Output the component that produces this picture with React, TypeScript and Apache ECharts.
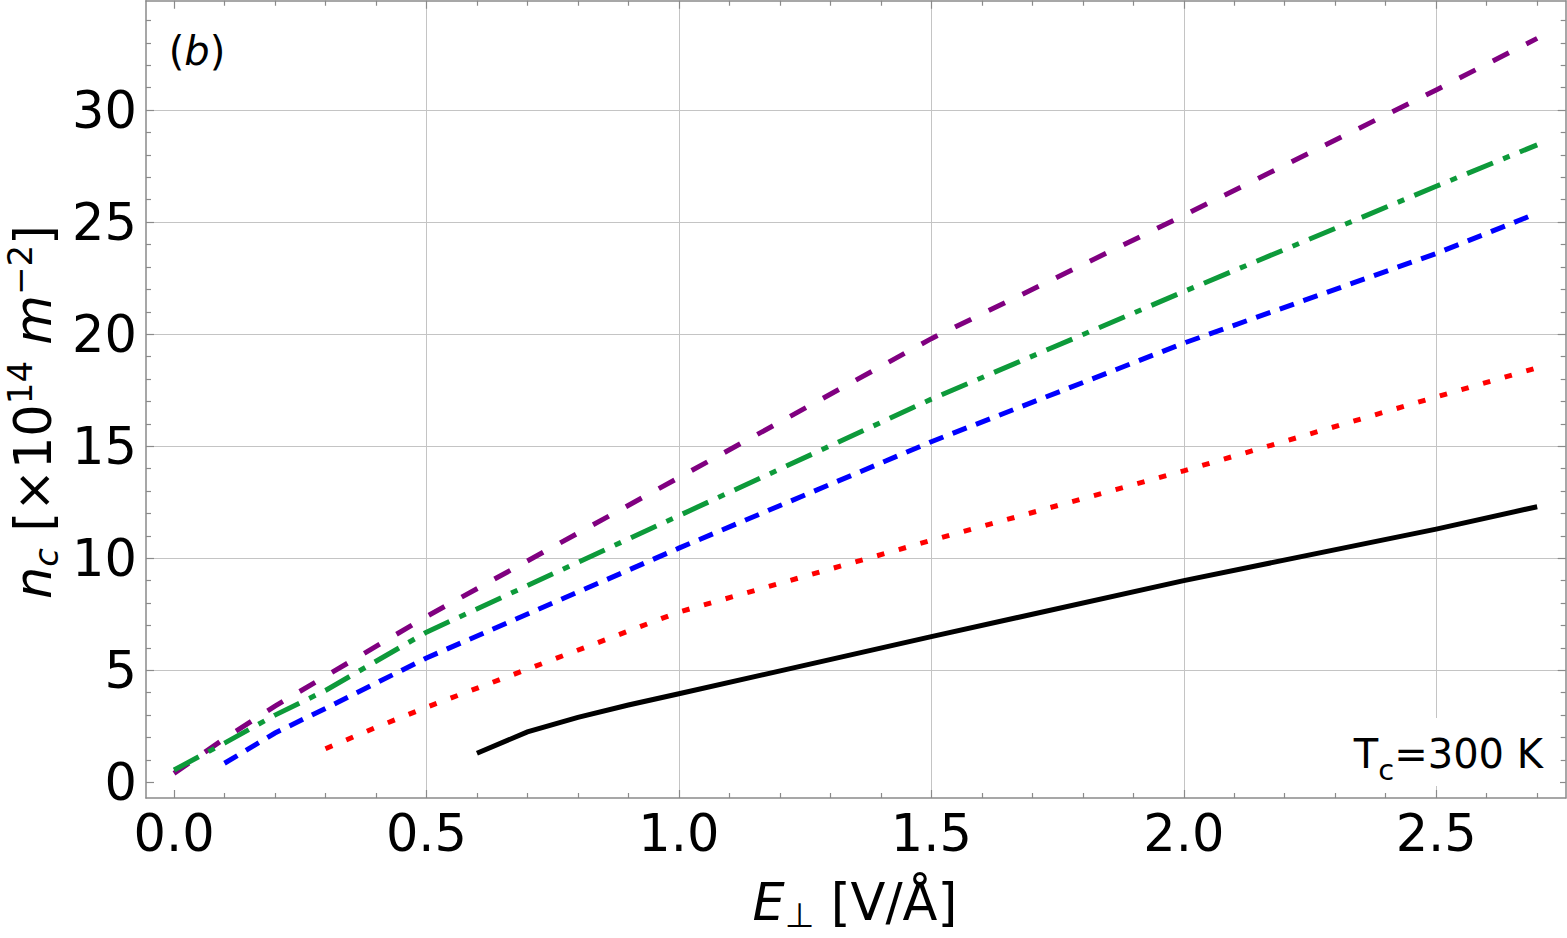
import React, { useEffect, useRef } from "react";
import * as echarts from "echarts";

// Carrier density n_c versus perpendicular field E⊥ for five curves
const blackE = [0.6, 0.7, 0.8, 0.9, 1.0, 1.5, 2.0, 2.5, 2.7];
const blackN = [1.3, 2.25, 2.9, 3.45, 3.95, 6.5, 9.0, 11.3, 12.3];

const redE = [0.3, 0.4, 0.5, 1.0, 1.5, 2.0, 2.5, 2.7];
const redN = [1.5, 2.45, 3.35, 7.6, 10.8, 13.9, 17.2, 18.5];

const blueE = [0.1, 0.2, 0.3, 0.5, 1.0, 1.5, 2.0, 2.5, 2.7];
const blueN = [0.85, 2.2, 3.3, 5.55, 10.45, 15.2, 19.6, 23.6, 25.4];

const purpleE = [0.0, 0.1, 0.2, 0.5, 1.0, 1.5, 2.0, 2.5, 2.7];
const purpleN = [0.4, 1.95, 3.4, 7.4, 13.6, 19.8, 25.3, 30.9, 33.2];

const greenE = [0.0, 0.1, 0.2, 0.3, 0.5, 1.0, 1.5, 2.0, 2.5, 2.7];
const greenN = [0.55, 1.75, 3.0, 4.1, 6.7, 11.9, 17.1, 21.9, 26.6, 28.45];

// Axis ticks and grid lines
const xMajor = [0, 0.5, 1.0, 1.5, 2.0, 2.5];
const xGrid = [0.5, 1.0, 1.5, 2.0, 2.5];
const yMajor = [0, 5, 10, 15, 20, 25, 30];
const yGrid = [5, 10, 15, 20, 25, 30];
const xMinor = Array.from({ length: 28 }, (_, i) => +(i * 0.1).toFixed(1)).filter(
  (v) => !xMajor.includes(v)
);
const yMinor = Array.from({ length: 35 }, (_, i) => i).filter((v) => !yMajor.includes(v));

const X_MIN = -0.0555;
const X_MAX = 2.7565;
const Y_MIN = -0.7;
const Y_MAX = 34.88;

const FONT = "DejaVu Sans";
const FRAME = "#8a8a8a";
const GRID = "#c4c4c4";

const pairs = (xs: number[], ys: number[]) => xs.map((x, i) => [x, ys[i]]);

function tickAxis(pos: string, values: number[], len: number, showLine: boolean, dim: "x" | "y") {
  const isX = dim === "x";
  return {
    type: "value",
    position: pos,
    min: isX ? X_MIN : Y_MIN,
    max: isX ? X_MAX : Y_MAX,
    axisLine: { show: showLine, onZero: false, lineStyle: { color: FRAME, width: 1.5 } },
    axisTick: { show: true, inside: true, length: len, customValues: values, lineStyle: { color: FRAME, width: 1.2 } },
    axisLabel: { show: false },
    splitLine: { show: false },
  };
}

function gridAxis(pos: string, values: number[], dim: "x" | "y") {
  const isX = dim === "x";
  return {
    type: "value",
    position: pos,
    min: isX ? X_MIN : Y_MIN,
    max: isX ? X_MAX : Y_MAX,
    axisLine: { show: false, onZero: false },
    axisTick: { show: false, customValues: values },
    axisLabel: { show: false },
    splitLine: { show: true, lineStyle: { color: GRID, width: 1 } },
  };
}

export default function App() {
  const ref = useRef<HTMLDivElement>(null);

  useEffect(() => {
    if (!ref.current) return;
    const chart = echarts.init(ref.current, null, { renderer: "svg" });

    const lineSeries = (name: string, data: number[][], color: string, dash: any) => ({
      name,
      type: "line",
      xAxisIndex: 0,
      yAxisIndex: 0,
      data,
      symbol: "none",
      showSymbol: false,
      silent: true,
      z: 3,
      lineStyle: { color, width: 5, type: dash, cap: "butt", join: "miter" },
    });

    const option: any = {
      animation: false,
      backgroundColor: "#ffffff",
      grid: { left: 146, right: 1.3, top: 0.75, bottom: 140, containLabel: false },
      xAxis: [
        {
          ...tickAxis("bottom", xMajor, 8, true, "x"),
          axisLabel: {
            show: true,
            customValues: xMajor,
            formatter: (v: number) => v.toFixed(1),
            margin: 10,
            fontSize: 51,
            fontFamily: FONT,
            color: "#000",
          },
        },
        tickAxis("bottom", xMinor, 5, false, "x"),
        tickAxis("top", xMajor, 8, true, "x"),
        tickAxis("top", xMinor, 5, false, "x"),
        gridAxis("bottom", xGrid, "x"),
      ],
      yAxis: [
        {
          ...tickAxis("left", yMajor, 8, true, "y"),
          axisLabel: {
            show: true,
            customValues: yMajor,
            formatter: (v: number) => String(v),
            margin: 9,
            fontSize: 51,
            fontFamily: FONT,
            color: "#000",
          },
        },
        tickAxis("left", yMinor, 5, false, "y"),
        tickAxis("right", yMajor, 8, true, "y"),
        tickAxis("right", yMinor, 5, false, "y"),
        gridAxis("left", yGrid, "y"),
      ],
      series: [
        lineSeries("black", pairs(blackE, blackN), "#000000", "solid"),
        lineSeries("red", pairs(redE, redN), "#ff0000", [7.5, 15]),
        lineSeries("blue", pairs(blueE, blueN), "#0000ff", [15, 10]),
        lineSeries("purple", pairs(purpleE, purpleN), "#800080", [18, 19.5]),
        lineSeries("green", pairs(greenE, greenN), "#0d9a3a", [28, 11, 7, 11]),
      ],
      graphic: [
        {
          type: "text",
          x: 197,
          y: 51,
          z: 10,
          style: {
            text: "({i|b})",
            fontSize: 40,
            fontFamily: FONT,
            fill: "#000",
            align: "center",
            verticalAlign: "middle",
            rich: { i: { fontSize: 40, fontFamily: FONT, fontStyle: "italic", fill: "#000" } },
          },
        },
        {
          type: "rect",
          z: 10,
          shape: { x: 1345, y: 718, width: 215, height: 68 },
          style: { fill: "#ffffff" },
        },
        {
          type: "text",
          x: 1543,
          y: 754,
          z: 11,
          style: {
            text: "{b|T}{s|c}{b|=300 K}",
            fontSize: 40,
            fontFamily: FONT,
            fill: "#000",
            align: "right",
            verticalAlign: "middle",
            rich: {
              b: { fontSize: 40, fontFamily: FONT, lineHeight: 60, verticalAlign: "middle", fill: "#000" },
              s: { fontSize: 29, fontFamily: FONT, lineHeight: 34, verticalAlign: "bottom", fill: "#000" },
            },
          },
        },
        {
          type: "text",
          x: 855,
          y: 902,
          z: 10,
          style: {
            text: "{i|E}{s|⊥}{b| [V/Å]}",
            fontSize: 51,
            fontFamily: FONT,
            fill: "#000",
            align: "center",
            verticalAlign: "middle",
            rich: {
              i: { fontSize: 51, fontFamily: FONT, fontStyle: "italic", lineHeight: 60, verticalAlign: "middle", fill: "#000" },
              b: { fontSize: 51, fontFamily: FONT, lineHeight: 60, verticalAlign: "middle", fill: "#000" },
              s: { fontSize: 34, fontFamily: FONT, lineHeight: 42, verticalAlign: "bottom", fill: "#000" },
            },
          },
        },
        {
          type: "text",
          x: 33,
          y: 412,
          rotation: Math.PI / 2,
          z: 10,
          style: {
            text: "{i|n}{si|c}{b| [×10}{p|14}{b| }{i|m}{p|−2}{b|]}",
            fontSize: 51,
            fontFamily: FONT,
            fill: "#000",
            align: "center",
            verticalAlign: "middle",
            rich: {
              i: { fontSize: 51, fontFamily: FONT, fontStyle: "italic", lineHeight: 60, verticalAlign: "middle", fill: "#000" },
              b: { fontSize: 51, fontFamily: FONT, lineHeight: 60, verticalAlign: "middle", fill: "#000" },
              si: { fontSize: 34, fontFamily: FONT, fontStyle: "italic", lineHeight: 38, verticalAlign: "bottom", fill: "#000" },
              p: { fontSize: 34, fontFamily: FONT, lineHeight: 24, verticalAlign: "top", fill: "#000" },
            },
          },
        },
      ],
    };

    chart.setOption(option);
    return () => chart.dispose();
  }, []);

  return (
    <div
      ref={ref}
      style={{ position: "fixed", left: 0, top: 0, width: 1567, height: 938, background: "#fff" }}
    />
  );
}
